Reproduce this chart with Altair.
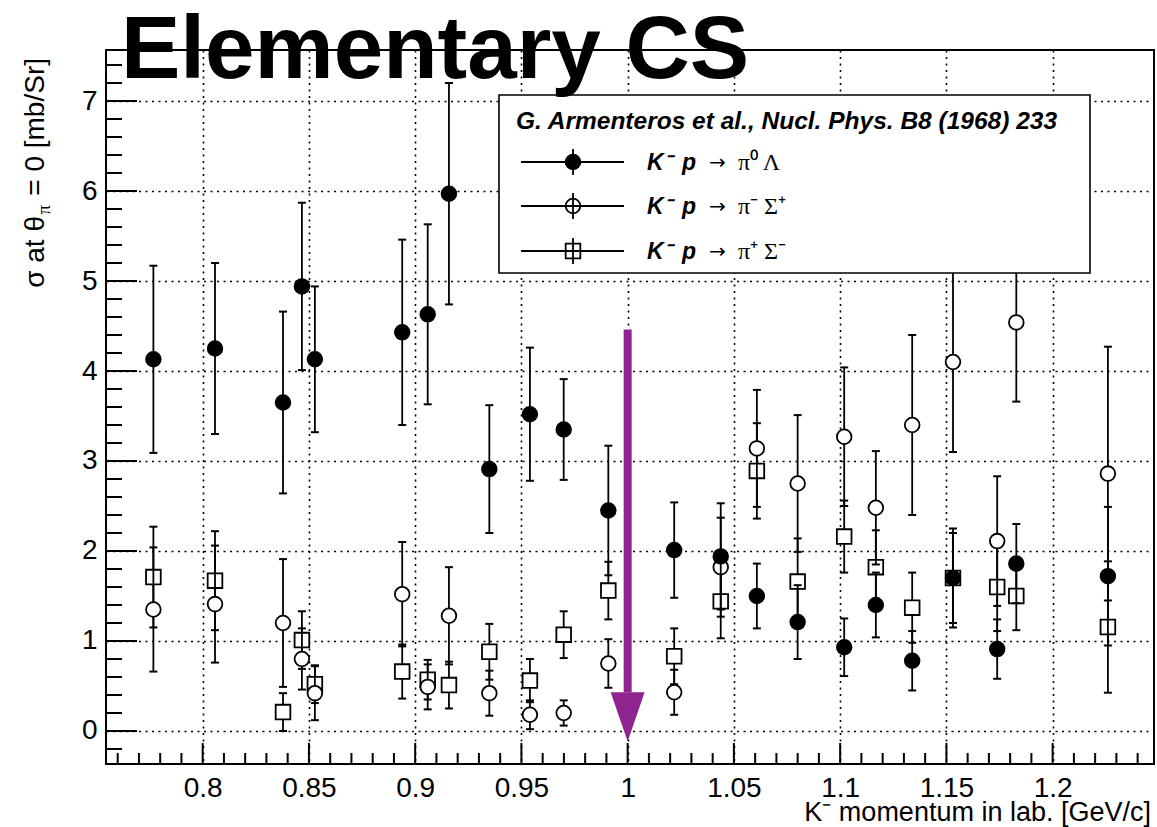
import altair as alt
import pandas as pd

# ---------------- data ----------------
P_LAB = [0.7768, 0.8058, 0.8378, 0.8467, 0.8528, 0.8939, 0.9059, 0.9159, 0.9349, 0.9540,
         0.9699, 0.9909, 1.0219, 1.0438, 1.0608, 1.0800, 1.1019, 1.1168, 1.1339, 1.1531,
         1.1739, 1.1829, 1.2260]

# K- p -> pi0 Lambda (filled circles)
SIG_LAMBDA = [4.13, 4.25, 3.65, 4.94, 4.13, 4.43, 4.63, 5.97, 2.91, 3.52,
              3.35, 2.45, 2.01, 1.94, 1.50, 1.21, 0.93, 1.40, 0.78, 1.70,
              0.91, 1.86, 1.72]
ERR_LAMBDA = [1.04, 0.95, 1.01, 0.93, 0.81, 1.03, 1.00, 1.23, 0.71, 0.74,
              0.56, 0.72, 0.53, 0.59, 0.36, 0.41, 0.32, 0.36, 0.33, 0.50,
              0.33, 0.44, 0.77]

# K- p -> pi- Sigma+ (open circles)
SIG_SIGP = [1.35, 1.41, 1.20, 0.80, 0.42, 1.52, 0.49, 1.28, 0.42, 0.18,
            0.20, 0.75, 0.43, 1.82, 3.14, 2.75, 3.27, 2.48, 3.40, 4.10,
            2.11, 4.54, 2.86]
ERR_SIGP = [0.69, 0.65, 0.71, 0.34, 0.30, 0.58, 0.25, 0.54, 0.25, 0.16,
            0.14, 0.27, 0.25, 0.55, 0.65, 0.76, 0.77, 0.63, 1.00, 1.00,
            0.72, 0.88, 1.41]

# K- p -> pi+ Sigma- (open squares)
SIG_SIGM = [1.71, 1.67, 0.21, 1.01, 0.52, 0.66, 0.57, 0.51, 0.88, 0.56,
            1.07, 1.56, 0.83, 1.44, 2.89, 1.66, 2.16, 1.82, 1.37, 1.70,
            1.60, 1.50, 1.155]
ERR_SIGM = [0.56, 0.55, 0.21, 0.32, 0.21, 0.30, 0.22, 0.26, 0.31, 0.24,
            0.26, 0.32, 0.31, 0.41, 0.53, 0.48, 0.40, 0.41, 0.39, 0.55,
            0.49, 0.38, 0.73]

X_DOMAIN = [0.7545, 1.2477]
Y_DOMAIN = [-0.367, 7.567]

X_MAJOR = [0.8, 0.85, 0.9, 0.95, 1.0, 1.05, 1.1, 1.15, 1.2]
X_MINOR = [0.76, 0.77, 0.78, 0.79, 0.81, 0.82, 0.83, 0.84, 0.86, 0.87, 0.88, 0.89,
           0.91, 0.92, 0.93, 0.94, 0.96, 0.97, 0.98, 0.99, 1.01, 1.02, 1.03, 1.04,
           1.06, 1.07, 1.08, 1.09, 1.11, 1.12, 1.13, 1.14, 1.16, 1.17, 1.18, 1.19,
           1.21, 1.22, 1.23, 1.24]
Y_MAJOR = [0, 1, 2, 3, 4, 5, 6, 7]
Y_MINOR = [-0.2, 0.2, 0.4, 0.6, 0.8, 1.2, 1.4, 1.6, 1.8, 2.2, 2.4, 2.6, 2.8,
           3.2, 3.4, 3.6, 3.8, 4.2, 4.4, 4.6, 4.8, 5.2, 5.4, 5.6, 5.8,
           6.2, 6.4, 6.6, 6.8, 7.2, 7.4]

# threshold arrow at p = 1 GeV/c
ARROW_X = [1.0]
ARROW_TOP = [4.46]
ARROW_HEAD_BASE = [0.43]
ARROW_TIP = [-0.117]

TITLE = "Elementary CS"
LEGEND_HEADER = "G. Armenteros et al., Nucl. Phys. B8 (1968) 233"
LEGEND_RIGHT = ["π⁰  Λ", "π⁻  Σ⁺", "π⁺  Σ⁻"]
X_TITLE = "K⁻ momentum in lab. [GeV/c]"

# ---------------- chart ----------------
W, H = 1048, 714
FONT = "Liberation Sans"
PURPLE = "#8f2390"

xs = alt.Scale(domain=X_DOMAIN, nice=False, zero=False)
ys = alt.Scale(domain=Y_DOMAIN, nice=False, zero=False)

x_axis = alt.Axis(values=X_MAJOR, grid=True, gridDash=[2, 4.5], gridColor="black",
                  gridWidth=1.6, gridOpacity=1, ticks=False, domain=False,
                  labelFont=FONT, labelFontSize=28, labelColor="black", labelPadding=10,
                  labelOverlap=False, labelFlush=False,
                  labelExpr="format(datum.value, '.2~f')", title=None)
y_axis = alt.Axis(values=Y_MAJOR, grid=True, gridDash=[2, 4.5], gridColor="black",
                  gridWidth=1.6, gridOpacity=1, ticks=False, domain=False,
                  labelFont=FONT, labelFontSize=28, labelColor="black", labelPadding=9,
                  labelOverlap=False, labelFlush=False, format="d", title=None)


def X(field):
    return alt.X(field, type="quantitative", scale=xs, axis=x_axis)


def Y(field):
    return alt.Y(field, type="quantitative", scale=ys, axis=y_axis)


one = pd.DataFrame({"k": [0]})

# inside ticks (ROOT style)
y_major = alt.Chart(pd.DataFrame({"v": Y_MAJOR})).mark_rule(color="black", strokeWidth=2).encode(
    y=Y("v"), x=alt.value(0), x2=alt.value(31))
y_minor = alt.Chart(pd.DataFrame({"v": Y_MINOR})).mark_rule(color="black", strokeWidth=2).encode(
    y=Y("v"), x=alt.value(0), x2=alt.value(16))
x_major = alt.Chart(pd.DataFrame({"v": X_MAJOR})).mark_rule(color="black", strokeWidth=2).encode(
    x=X("v"), y=alt.value(H), y2=alt.value(H - 21))
x_minor = alt.Chart(pd.DataFrame({"v": X_MINOR})).mark_rule(color="black", strokeWidth=2).encode(
    x=X("v"), y=alt.value(H), y2=alt.value(H - 11))


def series(vals, errs, shape, fill):
    d = pd.DataFrame({"x": P_LAB, "y": vals,
                      "lo": [v - e for v, e in zip(vals, errs)],
                      "hi": [v + e for v, e in zip(vals, errs)]})
    b = alt.Chart(d)
    bar = b.mark_rule(color="black", strokeWidth=1.8).encode(
        x=X("x"), y=Y("lo"), y2="hi")
    cap_lo = b.mark_tick(orient="horizontal", size=8, thickness=2, color="black", opacity=1).encode(
        x=X("x"), y=Y("lo"))
    cap_hi = b.mark_tick(orient="horizontal", size=8, thickness=2, color="black", opacity=1).encode(
        x=X("x"), y=Y("hi"))
    pt = b.mark_point(shape=shape, filled=True, fill=fill, stroke="black", strokeWidth=1.8,
                      size=215, opacity=1).encode(x=X("x"), y=Y("y"))
    return [bar, cap_lo, cap_hi, pt]


sq_layers = series(SIG_SIGM, ERR_SIGM, "square", "white")
oc_layers = series(SIG_SIGP, ERR_SIGP, "circle", "white")
fc_layers = series(SIG_LAMBDA, ERR_LAMBDA, "circle", "black")

# arrow
arrow_df = pd.DataFrame({"x": ARROW_X, "top": ARROW_TOP, "base": ARROW_HEAD_BASE,
                         "mid": [(a + b) / 2 for a, b in zip(ARROW_HEAD_BASE, ARROW_TIP)]})
arrow_shaft = alt.Chart(arrow_df).mark_rule(color=PURPLE, strokeWidth=8).encode(
    x=X("x"), y=Y("top"), y2="base")
arrow_head = alt.Chart(arrow_df).mark_point(
    shape="M-0.69,-1L0.69,-1L0,1Z", filled=True, color=PURPLE, opacity=1, size=2420,
    strokeWidth=0).encode(x=X("x"), y=Y("mid"))

# legend
LX0, LX1, LY0, LY1 = 393, 984, 45, 223
leg_box = alt.Chart(one).mark_rect(fill="white", stroke="black", strokeWidth=1.6).encode(
    x=alt.value(LX0), x2=alt.value(LX1), y=alt.value(LY0), y2=alt.value(LY1))
leg_header = alt.Chart(one).mark_text(
    text=LEGEND_HEADER, font=FONT, fontSize=24.5, fontWeight="bold", fontStyle="italic",
    align="left", baseline="alphabetic", color="black").encode(x=alt.value(410), y=alt.value(79))

leg_layers = [leg_box, leg_header]
rows_y = [112, 156, 201]
row_marks = [("circle", "black"), ("circle", "transparent"), ("square", "transparent")]
for yc, (shape, fill), rt in zip(rows_y, row_marks, LEGEND_RIGHT):
    leg_layers.append(alt.Chart(one).mark_rule(color="black", strokeWidth=1.8).encode(
        x=alt.value(415), x2=alt.value(518), y=alt.value(yc)))
    leg_layers.append(alt.Chart(one).mark_rule(color="black", strokeWidth=1.8).encode(
        x=alt.value(467), y=alt.value(yc - 13), y2=alt.value(yc + 13)))
    leg_layers.append(alt.Chart(one).mark_point(
        shape=shape, filled=True, fill=fill, stroke="black", strokeWidth=1.8, size=215,
        opacity=1).encode(x=alt.value(467), y=alt.value(yc)))
    leg_layers.append(alt.Chart(one).mark_text(
        text="K⁻", font=FONT, fontSize=23, fontWeight="bold", fontStyle="italic",
        align="left", baseline="alphabetic", color="black").encode(
        x=alt.value(541), y=alt.value(yc + 8)))
    leg_layers.append(alt.Chart(one).mark_text(
        text="p", font=FONT, fontSize=23, fontWeight="bold", fontStyle="italic",
        align="left", baseline="alphabetic", color="black").encode(
        x=alt.value(576), y=alt.value(yc + 8)))
    leg_layers.append(alt.Chart(one).mark_text(
        text="→", font="DejaVu Sans", fontSize=20,
        align="left", baseline="alphabetic", color="black").encode(
        x=alt.value(603), y=alt.value(yc + 7)))
    leg_layers.append(alt.Chart(one).mark_text(
        text=rt, font="Liberation Serif", fontSize=24,
        align="left", baseline="alphabetic", color="black").encode(
        x=alt.value(632), y=alt.value(yc + 8)))

# titles
title_txt = alt.Chart(one).mark_text(
    text=TITLE, font=FONT, fontSize=89, fontWeight="bold", align="left",
    baseline="alphabetic", color="black").encode(x=alt.value(15), y=alt.value(28))
x_title = alt.Chart(one).mark_text(
    text=X_TITLE, font=FONT, fontSize=27, align="right", baseline="alphabetic",
    color="black").encode(x=alt.value(W - 3), y=alt.value(771))

YT_X = -62
y_title_a = alt.Chart(one).mark_text(
    text=" = 0 [mb/Sr]", font=FONT, fontSize=28, angle=270, align="right",
    baseline="alphabetic", color="black").encode(x=alt.value(YT_X), y=alt.value(8))
y_title_b = alt.Chart(one).mark_text(
    text="π", font="Liberation Serif", fontSize=19, angle=270, align="right",
    baseline="alphabetic", color="black").encode(x=alt.value(YT_X + 6), y=alt.value(155))
y_title_c = alt.Chart(one).mark_text(
    text="σ at θ", font=FONT, fontSize=28, angle=270, align="right",
    baseline="alphabetic", color="black").encode(x=alt.value(YT_X), y=alt.value(166))

layers = ([y_major, y_minor, x_major, x_minor] + sq_layers + oc_layers + fc_layers +
          [arrow_shaft, arrow_head] + leg_layers +
          [title_txt, x_title, y_title_a, y_title_b, y_title_c])

chart = alt.layer(*layers).properties(
    width=W, height=H,
    autosize=alt.AutoSizeParams(type="none"),
    padding={"left": 106, "top": 50, "right": 3, "bottom": 63},
    background="white",
).configure_view(stroke="black", strokeWidth=2)

chart.save("out.html", embed_options={"renderer": "svg", "actions": False})
